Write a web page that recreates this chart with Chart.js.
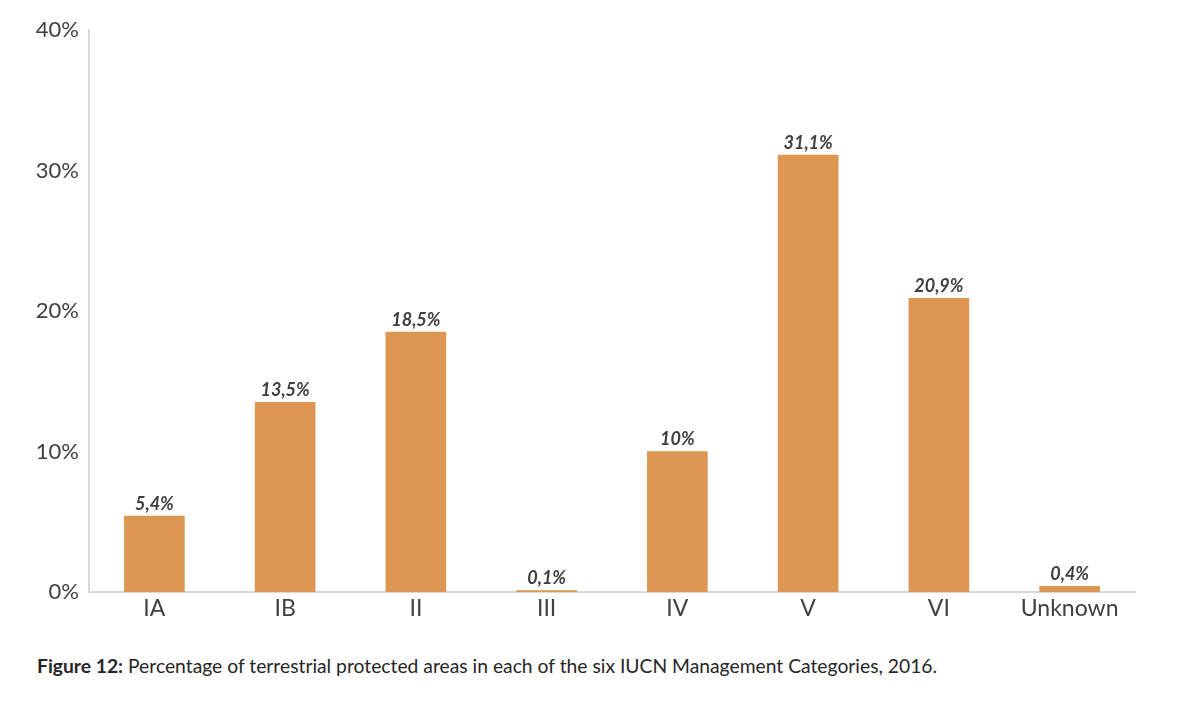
<!DOCTYPE html>
<html>
<head>
<meta charset="utf-8">
<script src="https://cdn.jsdelivr.net/npm/chart.js@4"></script>
<style>
  html, body { margin: 0; padding: 0; background: #fff; }
  body { width: 1200px; height: 721px; position: relative; overflow: hidden; font-family: Lato, "Open Sans", sans-serif; }
  #wrap { position: absolute; left: 0; top: 0; width: 1200px; height: 640px; }
  #caption { position: absolute; left: 37px; top: 654px; font-size: 19.3px; color: #262626; white-space: nowrap; }
  #caption b { font-weight: 700; }
</style>
</head>
<body>
<div id="wrap"><canvas id="c"></canvas></div>
<div id="caption"><b>Figure 12:</b> Percentage of terrestrial protected areas in each of the six IUCN Management Categories, 2016.</div>
<script>
const categories = ["IA", "IB", "II", "III", "IV", "V", "VI", "Unknown"];
const values = [5.4, 13.5, 18.5, 0.1, 10, 31.1, 20.9, 0.4];
const yTicks = [0, 10, 20, 30, 40];

const labelPlugin = {
  id: 'valueLabels',
  afterDatasetsDraw(chart) {
    const ctx = chart.ctx;
    const meta = chart.getDatasetMeta(0);
    ctx.save();
    ctx.font = 'italic bold 18px Lato, "Open Sans", sans-serif';
    ctx.fillStyle = '#404040';
    ctx.textAlign = 'center';
    ctx.textBaseline = 'bottom';
    meta.data.forEach((bar, i) => {
      const txt = String(values[i]).replace('.', ',') + '%';
      ctx.fillText(txt, bar.x, bar.y - 3);
    });
    ctx.restore();
  }
};

new Chart(document.getElementById('c'), {
  type: 'bar',
  data: {
    labels: categories,
    datasets: [{
      data: values,
      backgroundColor: '#DD9752',
      borderWidth: 0,
      barThickness: 60
    }]
  },
  options: {
    responsive: true,
    maintainAspectRatio: false,
    animation: false,
    layout: { padding: { left: 0, right: 65, top: 30, bottom: 0 } },
    plugins: { legend: { display: false }, tooltip: { enabled: false } },
    scales: {
      x: {
        grid: { display: false },
        border: { color: '#d9d9d9', width: 2 },
        ticks: { color: '#404040', font: { family: 'Lato, "Open Sans", sans-serif', size: 23 }, padding: -5, maxRotation: 0 },
        afterFit(scale) { scale.height = 48; }
      },
      y: {
        min: 0,
        max: 40,
        grid: { display: false },
        border: { color: '#d9d9d9', width: 2 },
        afterBuildTicks(scale) { scale.ticks = yTicks.map(v => ({ value: v })); },
        ticks: { color: '#404040', font: { family: 'Lato, "Open Sans", sans-serif', size: 22 }, padding: 2, callback: v => v + '%' },
        afterFit(scale) { scale.width = 89; }
      }
    }
  },
  plugins: [labelPlugin]
});
</script>
</body>
</html>
